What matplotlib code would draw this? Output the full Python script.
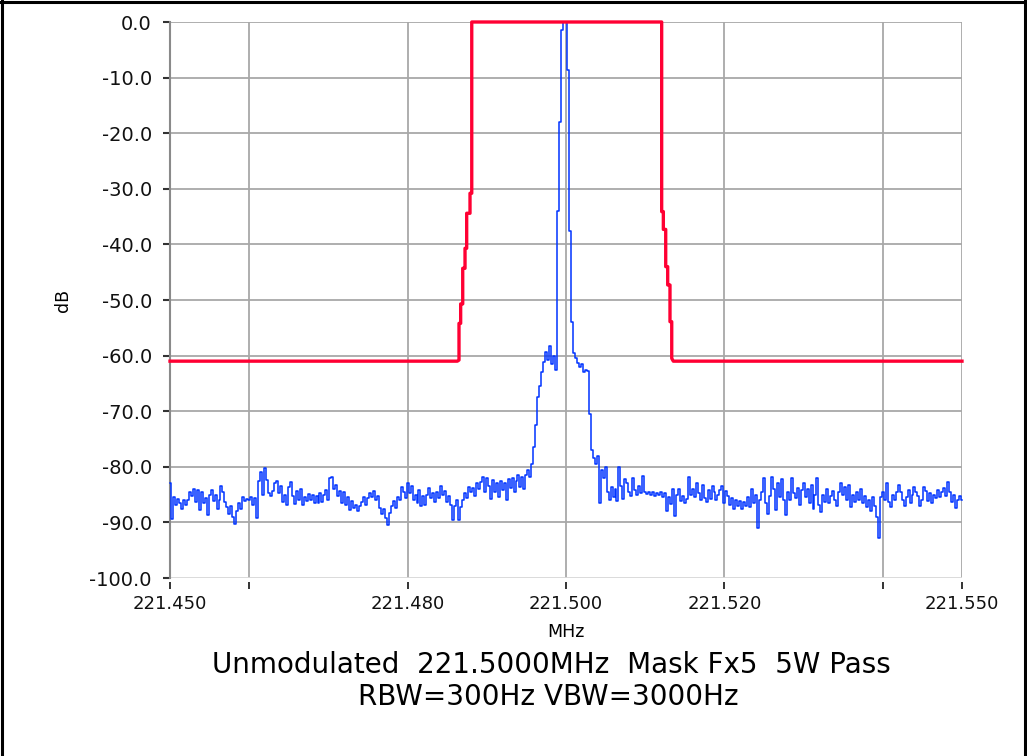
import numpy as np
import matplotlib
matplotlib.use("Agg")
import matplotlib.pyplot as plt
from matplotlib.lines import Line2D

# sweep: 401 points, 221.450 .. 221.550 MHz
f_start = 221.450
f_stop = 221.550
f_center = 221.500

# measured trace (dB), left noise floor / carrier / right noise floor
trace_left = [
    -83.0, -89.3, -85.5, -86.8, -85.8, -86.5, -87.5, -85.9, -86.8, -86.0,
    -84.6, -85.2, -84.0, -86.3, -84.2, -87.8, -84.5, -86.6, -85.7, -88.6,
    -85.0, -84.2, -86.1, -85.0, -87.5, -86.0, -83.5, -84.6, -86.4, -87.2,
    -88.5, -87.0, -89.0, -90.2, -88.0, -86.6, -87.5, -85.5, -86.2, -85.8,
    -86.0, -85.4, -86.9, -85.7, -89.2, -82.5, -81.0, -85.0, -80.2, -82.3,
    -84.7, -85.2, -84.3, -83.0, -82.6, -84.8, -83.5, -86.3, -85.0, -86.8,
    -83.6, -82.8, -85.3, -86.7, -84.4, -85.9, -84.0, -86.8, -85.5, -86.2,
    -84.9, -86.0, -85.0, -86.5, -85.3, -86.6, -84.8, -86.3, -85.0, -84.2,
    -86.0, -82.0, -81.8, -84.0, -83.2, -85.3, -84.3, -86.5, -84.6, -86.9,
    -85.5, -87.8, -86.2, -87.4, -86.8, -88.0, -87.0, -86.3, -85.5, -86.8,
    -85.6, -84.8, -85.4, -84.3, -86.0, -85.2, -87.4, -88.5, -87.6, -89.2,
    -90.4, -88.3, -87.0, -86.2, -87.4, -85.5, -86.0, -83.6, -84.6, -85.6,
    -83.0, -84.8, -83.5, -86.0, -85.0, -86.6, -84.2, -87.0, -85.3, -86.8,
    -85.0, -83.9, -85.6, -84.8, -86.3, -84.5, -85.7, -83.5, -85.0, -84.3,
    -86.4, -85.2, -86.8, -89.5, -87.0, -86.0, -89.6, -87.3, -86.0, -84.8,
    -85.7, -83.6, -84.5, -83.8, -85.2, -83.0, -84.0, -82.7, -81.8, -84.5,
    -82.0, -83.4, -85.8, -82.4, -84.6, -83.0, -85.5, -82.6, -84.2, -83.0,
    -86.0, -82.2, -83.8, -82.0, -84.6, -82.5, -81.5, -83.6, -81.8, -84.0,
]
trace_carrier = [
    -81.5, -80.5, -81.8, -79.5, -76.5, -72.5, -67.5, -65.5, -63.0, -61.2,
    -59.3, -60.8, -58.2, -61.5, -60.0, -62.5, -34.0, -18.0, -1.5, 0.0,
    0.0, -8.6, -37.5, -54.0, -59.5, -60.5, -61.3, -62.0, -61.5, -63.0,
    -62.5, -62.8, -70.5, -77.0, -78.5, -79.5, -78.0, -86.5,
]
trace_right = [
    -80.5, -82.0, -80.0, -84.5, -86.0, -83.6, -85.5, -84.0, -86.2, -80.0,
    -83.5, -85.8, -82.2, -83.0, -84.6, -85.3, -82.0, -84.2, -85.0, -83.4,
    -84.8, -81.7, -84.5, -84.9, -84.5, -85.0, -84.6, -85.2, -84.7, -85.0,
    -84.6, -85.5, -84.8, -88.0, -85.5, -86.7, -84.0, -88.9, -85.0, -84.0,
    -86.2, -85.3, -86.5, -85.8, -81.8, -85.0, -84.0, -85.5, -83.0, -84.8,
    -86.0, -83.2, -85.7, -86.4, -84.2, -85.8, -83.5, -84.6, -86.0, -85.0,
    -84.2, -83.5, -86.5, -84.4, -85.3, -86.8, -85.6, -87.5, -86.0, -87.0,
    -86.2, -87.6, -86.4, -87.0, -85.5, -87.2, -84.0, -86.5, -85.0, -91.0,
    -86.0, -84.5, -82.0, -86.5, -88.5, -85.2, -81.8, -84.0, -87.8, -83.0,
    -85.5, -82.2, -86.0, -88.6, -84.5, -86.0, -82.0, -84.8, -85.6, -83.8,
    -86.8, -84.2, -83.0, -85.5, -84.0, -86.5, -83.2, -87.6, -85.0, -82.0,
    -86.8, -88.2, -85.0, -86.3, -84.0, -86.6, -85.2, -84.3, -86.0, -87.0,
    -84.6, -83.0, -85.0, -83.6, -86.0, -83.2, -87.2, -85.0, -86.4, -84.6,
    -86.0, -84.0, -86.6, -85.2, -87.3, -86.0, -88.0, -85.5, -87.0, -89.0,
    -92.8, -85.4, -84.6, -86.0, -83.0, -86.3, -87.2, -85.0, -86.0, -84.6,
    -83.2, -84.5, -86.0, -87.0, -85.4, -84.2, -86.6, -85.0, -83.6, -84.5,
    -85.2, -87.0, -86.0, -83.6, -84.4, -86.2, -84.8, -86.6, -85.0, -85.6,
    -84.2, -85.4, -84.6, -83.8, -85.2, -82.8, -84.6, -86.3, -85.0, -87.4,
    -86.0, -85.2, -86.0,
]

# emission mask, offset from carrier in kHz
mask_khz = [-50.0, -13.72, -13.51, -13.51, -13.30, -13.30, -13.04, -13.04,
            -12.75, -12.75, -12.54, -12.54, -12.12, -12.12, -11.90, -11.90,
            12.08, 12.08, 12.29, 12.29, 12.59, 12.59, 12.84, 12.84,
            13.13, 13.13, 13.35, 13.35, 13.55, 50.0]
mask_db = [-61.0, -61.0, -60.8, -54.2, -54.2, -50.7, -50.7, -44.3,
           -44.3, -40.7, -40.7, -34.4, -34.4, -30.8, -30.8, 0.0,
           0.0, -34.1, -34.1, -37.3, -37.3, -44.0, -44.0, -47.3,
           -47.3, -53.9, -53.9, -60.5, -61.0, -61.0]

x_ticks = [221.450, 221.460, 221.480, 221.500, 221.520, 221.540, 221.550]
x_labels = ["221.450", "", "221.480", "221.500", "221.520", "", "221.550"]
y_ticks = [0, -10, -20, -30, -40, -50, -60, -70, -80, -90, -100]

trace_db = np.array(trace_left + trace_carrier + trace_right)
freq = np.linspace(f_start, f_stop, len(trace_db))
mask_f = f_center + np.array(mask_khz) / 1000.0

plt.rcParams['font.family'] = ['DejaVu Sans']

W, H = 1027, 756
fig = plt.figure(figsize=(W / 100, H / 100), dpi=100)
ax = fig.add_axes([170 / W, 1 - 578 / H, (962 - 170) / W, (578 - 22) / H])

ax.plot(freq, trace_db, color='#0033ff', lw=1.1, drawstyle='steps-mid', zorder=3, clip_on=False)
ax.plot(mask_f, mask_db, color='#ff0033', lw=2.4, zorder=4, clip_on=False)

ax.set_xlim(f_start, f_stop)
ax.set_ylim(-100, 0)
ax.set_xticks(x_ticks)
ax.set_xticklabels(x_labels)
ax.set_yticks(y_ticks)
ax.set_yticklabels([f"{v:.1f}" for v in y_ticks])

ax.grid(True, color='#a8a8a8', lw=1.3)
ax.set_axisbelow(True)
# grid at right / bottom edge is lighter
ax.get_xgridlines()[-1].set_color('#d8d8d8')
ax.get_ygridlines()[-1].set_color('#d8d8d8')

for s in ['top', 'right']:
    ax.spines[s].set_visible(False)
ax.spines['left'].set_color('#8a8a8a')
ax.spines['left'].set_linewidth(1.5)
ax.spines['bottom'].set_position(('outward', 3))
ax.spines['bottom'].set_color('none')

ax.tick_params(axis='y', length=5, width=1.5, color='#333333', pad=8,
               labelsize=14, labelcolor='#111111')
ax.tick_params(axis='x', length=5, width=1.4, color='#333333', pad=4,
               labelsize=13, labelcolor='#111111')

fig.text(566 / W, 1 - 632 / H, 'MHz', ha='center', va='center', fontsize=12.5)
fig.text(63 / W, 1 - 300 / H, 'dB', ha='center', va='center', fontsize=12.5, rotation=90)
fig.text(551 / W, 1 - 665 / H, 'Unmodulated  221.5000MHz  Mask Fx5  5W Pass',
         ha='center', va='center', fontsize=20)
fig.text(548 / W, 1 - 697 / H, 'RBW=300Hz VBW=3000Hz',
         ha='center', va='center', fontsize=20)

# outer frame
for xs, ys in [([1.5 / W, 1.5 / W], [0, 1]),
               ([0, 1], [1 - 1.5 / H, 1 - 1.5 / H]),
               ([1 - 2.5 / W, 1 - 2.5 / W], [0, 1])]:
    fig.add_artist(Line2D(xs, ys, color='black', lw=2.2))

fig.savefig('out.png', dpi=100)
